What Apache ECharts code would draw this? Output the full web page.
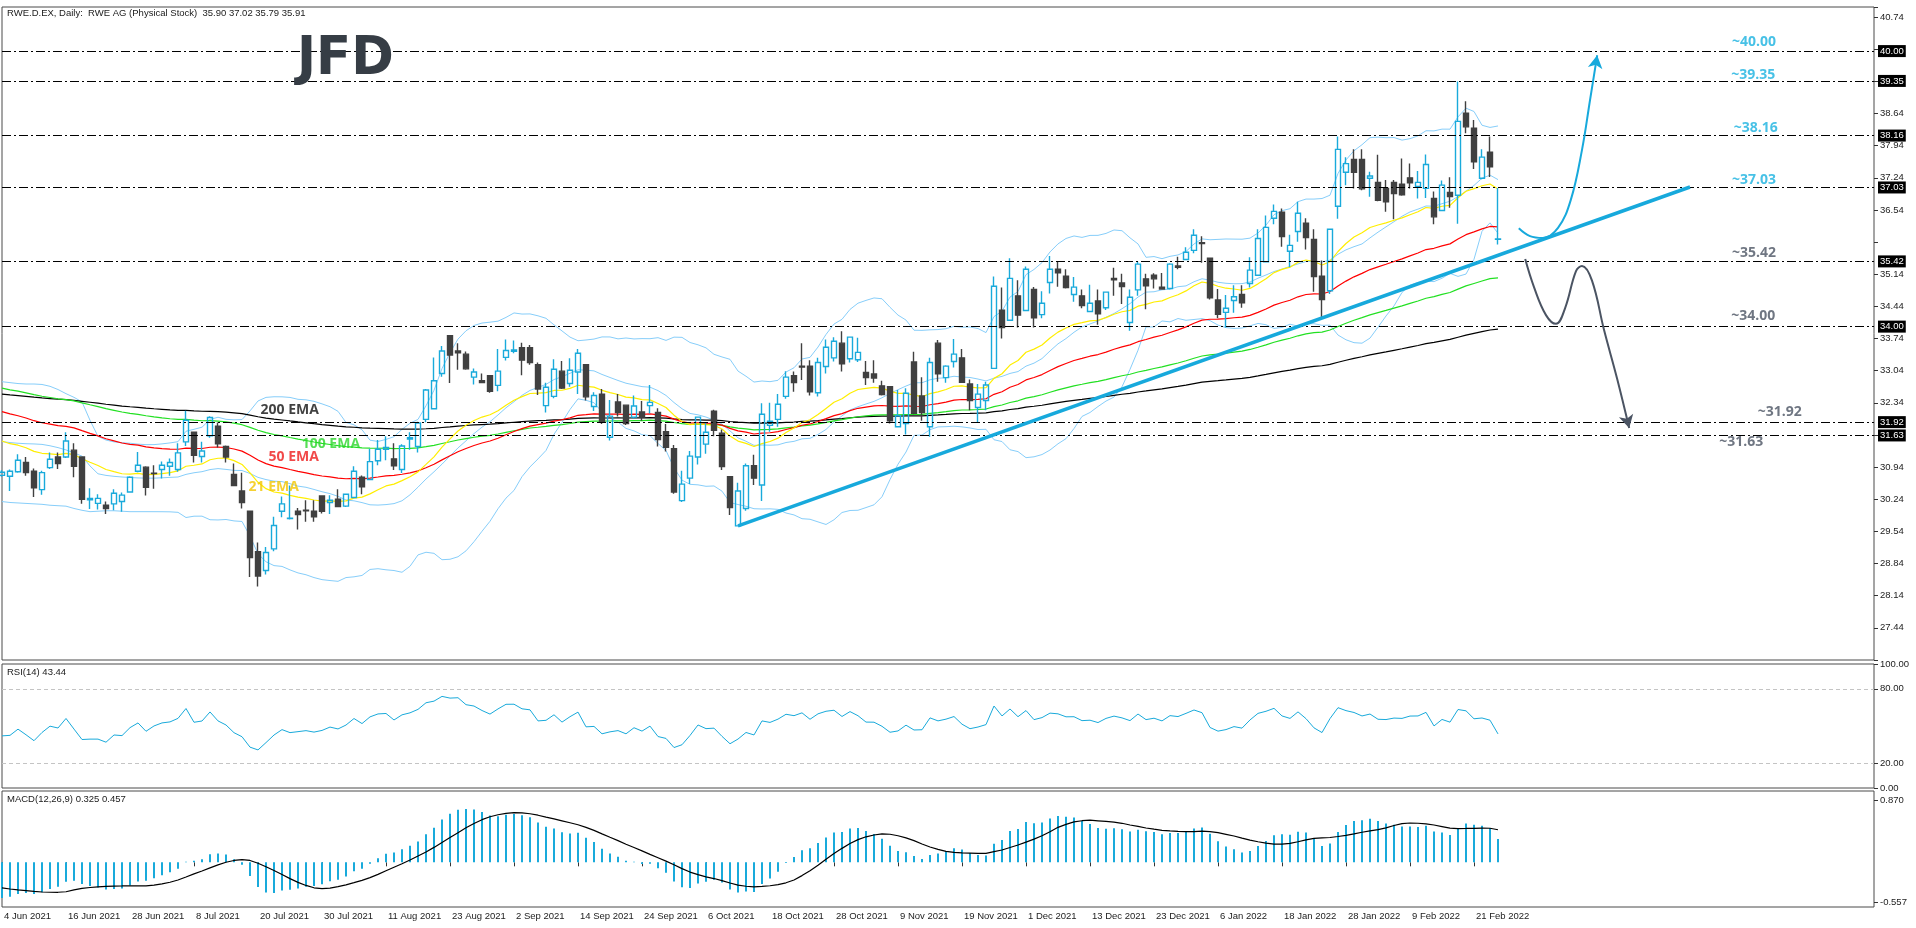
<!DOCTYPE html>
<html>

<head>
    <meta charset="utf-8">
    <script src="https://cdn.jsdelivr.net/npm/echarts@6/dist/echarts.min.js"></script>
    <style>
        html, body { margin: 0; padding: 0; background: #fff; }
    </style>
</head>

<body>
    <div id="main" style="width: 1916px;height:928px;"></div>
    <script type="text/javascript">
        // x axis labels, one every 8 trading days from bar 0
        var tickLabels = ['4 Jun 2021', '16 Jun 2021', '28 Jun 2021', '8 Jul 2021', '20 Jul 2021', '30 Jul 2021',
            '11 Aug 2021', '23 Aug 2021', '2 Sep 2021', '14 Sep 2021', '24 Sep 2021', '6 Oct 2021', '18 Oct 2021',
            '28 Oct 2021', '9 Nov 2021', '19 Nov 2021', '1 Dec 2021', '13 Dec 2021', '23 Dec 2021', '6 Jan 2022',
            '18 Jan 2022', '28 Jan 2022', '9 Feb 2022', '21 Feb 2022'];

        // daily bars: open, high, low, close
        var candles = [
            [30.76, 30.87, 30.73, 30.83], [30.74, 30.89, 30.42, 30.85], [30.84, 31.22, 30.82, 31.09], [31.04, 31.16, 30.75, 30.82],
            [30.85, 30.91, 30.29, 30.49], [30.45, 30.86, 30.34, 30.82], [30.93, 31.26, 30.90, 31.11], [31.16, 31.26, 30.90, 31.02],
            [31.16, 31.70, 31.14, 31.51], [31.31, 31.46, 30.72, 30.96], [31.16, 31.17, 30.14, 30.24], [30.23, 30.48, 30.03, 30.26],
            [30.15, 30.35, 30.02, 30.26], [30.11, 30.19, 29.92, 30.04], [30.14, 30.46, 30.00, 30.37], [30.19, 30.39, 29.97, 30.33],
            [30.40, 30.74, 30.40, 30.72], [30.85, 31.27, 30.83, 30.98], [30.94, 30.96, 30.32, 30.50], [30.81, 30.98, 30.47, 30.80],
            [30.89, 31.06, 30.69, 30.98], [30.96, 31.13, 30.75, 31.04], [30.89, 31.46, 30.84, 31.25], [31.49, 32.17, 31.40, 31.96],
            [31.70, 31.70, 31.04, 31.20], [31.17, 31.49, 31.04, 31.29], [31.62, 32.05, 31.58, 32.02], [31.83, 31.91, 31.37, 31.45],
            [31.39, 31.41, 31.04, 31.16], [30.78, 31.02, 30.54, 30.54], [30.42, 30.82, 30.04, 30.17], [29.98, 29.99, 28.55, 28.97],
            [29.10, 29.30, 28.34, 28.57], [28.69, 29.20, 28.60, 29.08], [29.16, 29.86, 29.11, 29.67], [29.98, 30.30, 29.85, 30.14],
            [29.82, 30.54, 29.80, 29.83], [29.98, 30.05, 29.58, 29.91], [30.00, 30.22, 29.75, 29.99], [29.98, 30.22, 29.75, 29.86],
            [30.31, 30.33, 29.93, 29.98], [30.17, 30.33, 29.92, 30.22], [30.24, 30.46, 30.08, 30.08], [30.09, 30.35, 30.07, 30.35],
            [30.28, 30.96, 30.27, 30.85], [30.72, 30.76, 30.35, 30.51], [30.67, 31.34, 30.67, 31.06], [31.08, 31.53, 30.98, 31.33],
            [31.33, 31.61, 31.09, 31.37], [31.12, 31.46, 30.88, 30.97], [30.89, 31.44, 30.81, 31.40], [31.55, 31.70, 31.32, 31.58],
            [31.39, 31.93, 31.26, 31.90], [31.98, 32.64, 31.92, 32.62], [32.21, 33.33, 32.20, 32.82], [32.98, 33.58, 32.91, 33.47],
            [33.80, 33.80, 32.77, 33.38], [33.47, 33.64, 33.06, 33.43], [33.40, 33.46, 33.06, 33.08], [32.90, 33.09, 32.74, 33.01],
            [32.82, 32.98, 32.77, 32.78], [32.93, 32.94, 32.56, 32.59], [32.72, 33.51, 32.59, 33.03], [33.33, 33.72, 33.26, 33.48],
            [33.46, 33.70, 33.42, 33.49], [33.54, 33.65, 32.94, 33.27], [33.54, 33.60, 33.17, 33.22], [33.17, 33.22, 32.51, 32.64],
            [32.28, 32.78, 32.13, 32.68], [32.48, 33.29, 32.44, 33.07], [33.03, 33.25, 32.64, 32.66], [32.76, 33.31, 32.69, 33.05],
            [33.01, 33.51, 32.53, 33.42], [33.17, 33.17, 32.39, 32.47], [32.26, 32.57, 32.16, 32.50], [32.53, 32.64, 31.88, 31.92],
            [31.59, 32.40, 31.52, 32.05], [32.36, 32.53, 32.04, 32.13], [32.29, 32.29, 31.86, 31.89], [32.03, 32.50, 32.00, 32.27],
            [32.14, 32.38, 31.95, 32.03], [32.28, 32.73, 32.11, 32.35], [32.13, 32.22, 31.39, 31.54], [31.71, 31.88, 31.28, 31.37],
            [31.34, 31.42, 30.36, 30.40], [30.21, 30.86, 30.18, 30.57], [30.70, 31.29, 30.57, 31.18], [31.16, 32.04, 31.00, 32.03],
            [31.44, 31.92, 31.23, 31.70], [32.16, 32.19, 31.61, 31.74], [31.68, 31.76, 30.88, 30.95], [30.73, 30.73, 29.90, 30.06],
            [29.66, 30.60, 29.66, 30.42], [30.04, 31.02, 29.99, 30.97], [30.97, 31.21, 30.55, 30.70], [30.55, 32.33, 30.20, 32.09],
            [31.85, 32.34, 31.71, 31.94], [31.98, 32.53, 31.82, 32.31], [32.48, 33.03, 32.43, 32.90], [32.93, 33.02, 32.58, 32.78],
            [33.14, 33.64, 32.84, 33.12], [33.14, 33.27, 32.50, 32.58], [32.56, 33.32, 32.48, 33.22], [33.13, 33.72, 32.98, 33.55],
            [33.32, 33.77, 33.24, 33.68], [33.64, 33.90, 33.02, 33.19], [33.30, 33.78, 33.22, 33.77], [33.28, 33.76, 33.23, 33.44],
            [33.00, 33.25, 32.73, 32.89], [32.97, 33.27, 32.78, 32.88], [32.71, 32.82, 32.50, 32.52], [32.69, 32.69, 31.89, 31.95],
            [31.82, 32.62, 31.81, 32.06], [31.89, 32.66, 31.65, 32.55], [33.23, 33.45, 32.09, 32.11], [32.49, 32.90, 31.95, 32.13],
            [31.82, 33.32, 31.60, 33.22], [33.64, 33.71, 32.80, 32.97], [32.89, 33.16, 32.78, 33.14], [33.24, 33.73, 33.11, 33.40],
            [33.32, 33.51, 32.77, 32.79], [32.75, 32.85, 32.18, 32.39], [32.24, 32.75, 31.91, 32.53], [32.39, 32.80, 32.18, 32.73],
            [33.09, 35.09, 33.09, 34.88], [34.36, 34.85, 33.74, 33.98], [34.14, 35.49, 34.12, 35.05], [34.67, 35.01, 33.98, 34.25],
            [34.35, 35.31, 34.34, 35.25], [34.81, 34.86, 33.98, 34.19], [34.26, 34.77, 34.18, 34.51], [34.96, 35.54, 34.72, 35.25],
            [35.25, 35.43, 34.87, 35.17], [35.10, 35.25, 34.83, 34.85], [34.70, 35.08, 34.54, 34.86], [34.67, 34.81, 34.40, 34.46],
            [34.33, 34.91, 34.33, 34.51], [34.56, 34.81, 34.04, 34.28], [34.41, 34.76, 34.36, 34.75], [35.05, 35.28, 34.67, 35.02],
            [34.95, 35.15, 34.49, 34.87], [34.09, 34.81, 33.91, 34.64], [34.80, 35.42, 34.67, 35.36], [35.04, 35.15, 34.38, 34.89],
            [35.12, 35.16, 34.83, 35.04], [34.86, 35.17, 34.80, 34.82], [34.83, 35.38, 34.81, 35.36], [35.32, 35.52, 35.25, 35.29],
            [35.46, 35.73, 35.46, 35.62], [35.66, 36.12, 35.60, 35.99], [35.83, 35.97, 35.39, 35.81], [35.49, 35.50, 34.59, 34.63],
            [34.58, 34.82, 34.18, 34.27], [34.31, 34.69, 33.98, 34.40], [34.57, 34.90, 34.30, 34.65], [34.70, 34.90, 34.41, 34.52],
            [34.94, 35.51, 34.85, 35.23], [35.12, 36.12, 35.11, 35.92], [35.41, 36.42, 35.41, 36.16], [36.36, 36.66, 36.23, 36.51],
            [36.49, 36.57, 35.74, 35.96], [35.64, 36.00, 35.29, 35.77], [36.07, 36.72, 35.85, 36.47], [36.25, 36.36, 35.68, 35.94],
            [35.90, 36.12, 34.76, 35.09], [35.10, 35.44, 34.20, 34.59], [34.78, 36.12, 34.71, 36.12], [36.62, 38.14, 36.35, 37.86],
            [37.36, 37.69, 37.08, 37.55], [37.64, 37.86, 37.01, 37.36], [37.64, 37.86, 36.97, 37.00], [37.23, 37.37, 36.83, 37.28],
            [37.14, 37.74, 36.73, 36.75], [37.01, 37.19, 36.50, 36.72], [37.14, 37.19, 36.34, 36.90], [37.10, 37.66, 36.85, 36.87],
            [37.24, 37.55, 37.01, 37.13], [37.05, 37.39, 36.79, 37.14], [37.01, 37.75, 36.80, 37.53], [36.79, 36.94, 36.23, 36.39],
            [36.53, 37.18, 36.51, 37.08], [36.92, 37.25, 36.59, 36.83], [36.86, 39.34, 36.24, 38.47], [38.65, 38.91, 38.21, 38.35],
            [38.32, 38.50, 37.43, 37.59], [37.23, 37.86, 37.21, 37.69], [37.80, 38.14, 37.26, 37.48], [35.90, 37.02, 35.79, 35.91]
        ];

        // indicator values read at the left edge (history before bar 0 is not on the chart)
        var emaStart = { 21: 31.51, 50: 32.15, 100: 32.66, 200: 32.53 };
        var bbUpperHead = [32.80, 32.78, 32.76, 32.75, 32.75, 32.74, 32.70, 32.63, 32.54, 32.46,
            32.36, 31.96, 31.61, 31.53, 31.49, 31.47, 31.46, 31.44, 31.43];
        var bbLowerHead = [30.19, 30.17, 30.16, 30.15, 30.14, 30.13, 30.11, 30.10, 30.09, 30.04,
            30.00, 29.97, 29.98, 29.99, 29.99, 29.98, 29.97, 29.97, 29.97];
        var rsiStart = { gain: 0.087, loss: 0.12 };
        var macdStart = { ema12: 31.10, ema26: 31.60, signal: -0.34 };

        // support / resistance levels and their notes
        var levels = [40.00, 39.35, 38.16, 37.03, 35.42, 34.00, 31.92, 31.63];
        var levelNotes = [
            [216.2, 40.19, '~40.00', '#19b2e0'], [216.1, 39.48, '~39.35', '#19b2e0'],
            [216.4, 38.33, '~38.16', '#19b2e0'], [216.2, 37.19, '~37.03', '#19b2e0'],
            [216.2, 35.61, '~35.42', '#4b5463'], [216.1, 34.24, '~34.00', '#4b5463'],
            [219.4, 32.13, '~31.92', '#4b5463'], [214.6, 31.49, '~31.63', '#4b5463']
        ];
        var emaNotes = [
            [32.25, 32.19, '200 EMA', '#111111'], [37.4, 31.45, '100 EMA', '#2bd62b'],
            [33.25, 31.16, '50 EMA', '#ee1c1c'], [30.75, 30.51, '21 EMA', '#f2c500']
        ];
        var trendLine = [[92, 29.66], [211, 37.04]];
        var upPath = [[189.6, 36.14], [191.0, 35.97], [192.6, 35.93], [194.5, 36.15], [196.1, 36.76],
            [197.5, 37.85], [198.5, 38.93], [199.4, 39.91]];
        var downPath = [[190.4, 35.47], [191.5, 34.86], [193.0, 34.25], [194.25, 34.06], [195.4, 34.41],
            [196.75, 35.21], [197.5, 35.32], [198.75, 35.00], [200.25, 33.93], [201.9, 32.86], [203.4, 31.79]];

        var nCats = 235;
        var cats = [];
        for (var i = 0; i < nCats; i++) cats.push(String(i));

        var closes = candles.map(function (c) { return c[3]; });

        function ema(period, start) {
            var k = 2 / (period + 1), out = [], prev = start;
            closes.forEach(function (c, i) {
                if (i > 0) prev = prev + k * (c - prev);
                out.push(+prev.toFixed(4));
            });
            return out;
        }

        // bollinger 20, 2
        var bbUp = [], bbMid = [], bbLow = [];
        closes.forEach(function (c, i) {
            if (i < bbUpperHead.length) {
                bbUp.push(bbUpperHead[i]);
                bbLow.push(bbLowerHead[i]);
                bbMid.push(+((bbUpperHead[i] + bbLowerHead[i]) / 2).toFixed(4));
                return;
            }
            var win = closes.slice(i - 19, i + 1);
            var m = win.reduce(function (a, b) { return a + b; }, 0) / 20;
            var sd = Math.sqrt(win.reduce(function (a, b) { return a + (b - m) * (b - m); }, 0) / 20);
            bbUp.push(+(m + 2 * sd).toFixed(4));
            bbMid.push(+m.toFixed(4));
            bbLow.push(+(m - 2 * sd).toFixed(4));
        });

        // rsi 14 (wilder)
        var rsi = [], ag = rsiStart.gain, al = rsiStart.loss;
        closes.forEach(function (c, i) {
            if (i > 0) {
                var d = c - closes[i - 1];
                ag = (ag * 13 + Math.max(d, 0)) / 14;
                al = (al * 13 + Math.max(-d, 0)) / 14;
            }
            rsi.push(+(100 - 100 / (1 + ag / al)).toFixed(2));
        });

        // macd 12,26,9
        var e12 = ema(12, macdStart.ema12), e26 = ema(26, macdStart.ema26);
        var macdMain = e12.map(function (v, i) { return +(v - e26[i]).toFixed(4); });
        var macdSignal = macdMain.map(function (v, i) {
            var s = 0;
            for (var j = i - 8; j <= i; j++) s += j < 0 ? macdStart.signal : macdMain[j];
            return +(s / 9).toFixed(4);
        });

        var font = '"Liberation Sans", Arial, sans-serif';
        var blue = '#19aadb';
        var hiddenTicks = ['40.04', '39.34', '35.84', '31.64'];

        var chartDom = document.getElementById('main');
        var myChart = echarts.init(chartDom);

        function hiddenCatAxis(g) {
            return {
                type: 'category', gridIndex: g, data: cats, boundaryGap: false,
                axisLine: { show: false }, axisTick: { show: false }, axisLabel: { show: false }, splitLine: { show: false }
            };
        }

        function lineSeries(name, data, color, width) {
            return {
                name: name, type: 'line', xAxisIndex: 0, yAxisIndex: 0, data: data,
                showSymbol: false, symbol: 'none', silent: true,
                lineStyle: { color: color, width: width }, z: 3
            };
        }

        function noteSeries(notes) {
            return {
                type: 'scatter', xAxisIndex: 3, yAxisIndex: 0, symbolSize: 1, silent: true,
                itemStyle: { color: 'rgba(0,0,0,0)' }, z: 6,
                data: notes.map(function (n) {
                    return {
                        value: [n[0], n[1]], name: n[2],
                        label: { color: n[3] }
                    };
                }),
                label: {
                    show: true, position: 'right', distance: 0, formatter: '{b}',
                    fontFamily: '"Open Sans", sans-serif', fontWeight: 'bold', fontSize: 14
                }
            };
        }

        function arrowData(path, rot) {
            return path.map(function (p, i) {
                if (i < path.length - 1) return { value: p, symbol: 'none' };
                return { value: p, symbol: 'arrow', symbolSize: [11, 13], symbolRotate: rot };
            });
        }

        var option = {
            animation: false,
            backgroundColor: '#ffffff',
            textStyle: { fontFamily: font },
            grid: [
                { left: 2, right: 42, top: 7, height: 653, show: true, borderColor: '#4a4a4a', borderWidth: 1 },
                { left: 2, right: 42, top: 664, height: 124, show: true, borderColor: '#4a4a4a', borderWidth: 1 },
                { left: 2, right: 42, top: 791, height: 116, show: true, borderColor: '#4a4a4a', borderWidth: 1 }
            ],
            xAxis: [
                hiddenCatAxis(0),
                hiddenCatAxis(1),
                {
                    type: 'category', gridIndex: 2, data: cats, boundaryGap: false,
                    axisLine: { show: false },
                    axisTick: {
                        show: true, length: 4, lineStyle: { color: '#333' },
                        interval: function (idx) { return idx % 8 === 0 && idx / 8 < tickLabels.length; }
                    },
                    axisLabel: {
                        show: true, interval: 0, align: 'left', margin: 4, padding: [0, 0, 0, 2],
                        fontSize: 9.5, color: '#222', fontFamily: font,
                        formatter: function (v, idx) {
                            return (idx % 8 === 0 && tickLabels[idx / 8]) ? tickLabels[idx / 8] : '';
                        }
                    },
                    splitLine: { show: false }
                },
                { type: 'value', gridIndex: 0, min: 0, max: 234, show: false }
            ],
            yAxis: [
                { type: 'value', gridIndex: 0, min: 26.74, max: 40.96, show: false },
                {
                    // price labels, offset by 27.44 so ticks fall on multiples of the interval
                    type: 'value', gridIndex: 0, position: 'right', min: -0.70, max: 13.52, interval: 0.70,
                    axisLine: { show: false },
                    axisTick: { show: true, length: 4, lineStyle: { color: '#333' } },
                    axisLabel: {
                        margin: 6, fontSize: 9.5, color: '#222', fontFamily: font,
                        formatter: function (v) {
                            var p = v + 27.44;
                            var s = p.toFixed(2);
                            if (p < 27 || p > 40.8 || hiddenTicks.indexOf(s) >= 0) return '';
                            return s;
                        }
                    },
                    splitLine: { show: false }
                },
                {
                    type: 'value', gridIndex: 1, position: 'right', min: 0, max: 100,
                    axisLine: { show: false },
                    axisTick: { show: true, length: 4, customValues: [0, 20, 80, 100], lineStyle: { color: '#333' } },
                    axisLabel: {
                        margin: 6, fontSize: 9.5, color: '#222', fontFamily: font, customValues: [0, 20, 80, 100],
                        formatter: function (v) { return v.toFixed(2); }
                    },
                    splitLine: { show: false }
                },
                {
                    type: 'value', gridIndex: 2, position: 'right', min: -0.626, max: 1.0,
                    axisLine: { show: false },
                    axisTick: { show: true, length: 4, customValues: [-0.557, 0.870], lineStyle: { color: '#333' } },
                    axisLabel: {
                        margin: 6, fontSize: 9.5, color: '#222', fontFamily: font, customValues: [-0.557, 0.870],
                        formatter: function (v) { return v.toFixed(3); }
                    },
                    splitLine: { show: false }
                }
            ],
            graphic: [
                {
                    type: 'text', left: 7, top: 8, z: 10,
                    style: { text: 'RWE.D.EX, Daily:  RWE AG (Physical Stock)  35.90 37.02 35.79 35.91', font: '9.5px ' + font, fill: '#1a1a1a' }
                },
                {
                    type: 'text', left: 7, top: 667, z: 10,
                    style: { text: 'RSI(14) 43.44', font: '9.5px ' + font, fill: '#1a1a1a' }
                },
                {
                    type: 'text', left: 7, top: 794, z: 10,
                    style: { text: 'MACD(12,26,9) 0.325 0.457', font: '9.5px ' + font, fill: '#1a1a1a' }
                },
                {
                    type: 'text', left: 297, top: 33, z: 10, scaleX: 0.95,
                    style: { text: 'JFD', font: 'bold 54px "DejaVu Sans", sans-serif', fill: '#363d45' }
                }
            ],
            series: [
                lineSeries('BB upper', bbUp, '#87cefa', 1),
                lineSeries('BB middle', bbMid, '#87cefa', 1),
                lineSeries('BB lower', bbLow, '#87cefa', 1),
                lineSeries('200 EMA', ema(200, emaStart[200]), '#000000', 1.2),
                lineSeries('100 EMA', ema(100, emaStart[100]), '#22e022', 1.2),
                lineSeries('50 EMA', ema(50, emaStart[50]), '#ff0000', 1.2),
                lineSeries('21 EMA', ema(21, emaStart[21]), '#ffee00', 1.2),
                {
                    name: 'RWE', type: 'candlestick', xAxisIndex: 0, yAxisIndex: 0, z: 4,
                    barWidth: 5,
                    data: candles.map(function (c) { return [c[0], c[3], c[2], c[1]]; }),
                    itemStyle: {
                        color: 'rgba(255,255,255,0)', color0: '#404040',
                        borderColor: blue, borderColor0: '#404040', borderWidth: 1.4
                    },
                    markLine: {
                        silent: true, symbol: ['none', 'none'], animation: false,
                        lineStyle: { color: '#000', width: 1, type: [9, 3, 2, 3] },
                        label: {
                            show: true, position: 'end', distance: 4,
                            backgroundColor: '#000', color: '#fff', padding: [1, 2, 1, 2],
                            fontSize: 9.5, fontFamily: font,
                            formatter: function (p) { return p.value.toFixed(2); }
                        },
                        data: levels.map(function (v) { return { yAxis: v }; })
                    }
                },
                {
                    name: 'trend', type: 'line', xAxisIndex: 3, yAxisIndex: 0, data: trendLine,
                    symbol: 'none', silent: true, z: 5,
                    lineStyle: { color: '#17a9dc', width: 3.5 }
                },
                {
                    name: 'up', type: 'line', xAxisIndex: 3, yAxisIndex: 0, smooth: 0.4, silent: true, z: 5,
                    showAllSymbol: true, data: arrowData(upPath, -9),
                    lineStyle: { color: '#17a9dc', width: 2 }, itemStyle: { color: '#17a9dc' }
                },
                {
                    name: 'down', type: 'line', xAxisIndex: 3, yAxisIndex: 0, smooth: 0.4, silent: true, z: 5,
                    showAllSymbol: true, data: arrowData(downPath, -166),
                    lineStyle: { color: '#4b5463', width: 2 }, itemStyle: { color: '#4b5463' }
                },
                noteSeries(levelNotes),
                noteSeries(emaNotes),
                {
                    name: 'RSI', type: 'line', xAxisIndex: 1, yAxisIndex: 2, data: rsi,
                    symbol: 'none', silent: true, lineStyle: { color: blue, width: 1 },
                    markLine: {
                        silent: true, symbol: ['none', 'none'], label: { show: false },
                        lineStyle: { color: '#c4c4c4', width: 1, type: [4, 3] },
                        data: [{ yAxis: 80 }, { yAxis: 20 }]
                    }
                },
                {
                    name: 'MACD', type: 'bar', xAxisIndex: 2, yAxisIndex: 3, data: macdMain,
                    barWidth: 2, silent: true, itemStyle: { color: blue }
                },
                {
                    name: 'Signal', type: 'line', xAxisIndex: 2, yAxisIndex: 3, data: macdSignal,
                    symbol: 'none', silent: true, lineStyle: { color: '#000', width: 1.2 }
                }
            ]
        };

        myChart.setOption(option);
    </script>
</body>

</html>
